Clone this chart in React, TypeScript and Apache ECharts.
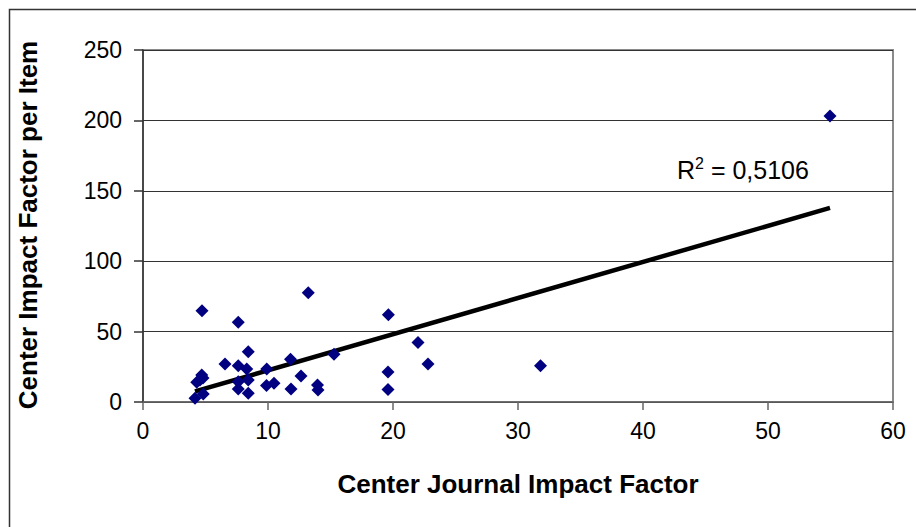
import React, { useEffect, useRef } from "react";
import * as echarts from "echarts";

// Scatter points: [Center Journal Impact Factor, Center Impact Factor per Item]
const journalIF = [
  54.96, 4.72, 7.62, 13.22, 19.63, 22.0, 22.8, 31.8, 19.6, 19.6, 15.28, 8.42,
  6.56, 7.62, 8.3, 9.9, 11.8, 12.64, 10.48, 9.88, 11.84, 13.96, 14.0, 8.42,
  8.42, 7.62, 7.62, 4.56, 4.7, 4.82, 4.16, 4.8, 4.3,
];
const impactPerItem = [
  203.1, 64.8, 56.6, 77.6, 62.0, 42.3, 27.0, 25.8, 21.3, 8.9, 33.9, 35.7,
  27.0, 25.8, 23.4, 23.4, 30.3, 18.5, 13.4, 11.7, 9.2, 12.1, 8.5, 15.6,
  6.2, 9.2, 14.4, 15.6, 19.2, 5.7, 2.6, 17.0, 14.0,
];

// Linear trend line: y = slope * x + intercept
const trendSlope = 2.566;
const trendIntercept = -3.17;
const rSquaredText = "0,5106";

const xTicks = { min: 0, max: 60, interval: 10 };
const yTicks = { min: 0, max: 250, interval: 50 };

const xTitle = "Center Journal Impact Factor";
const yTitle = "Center Impact Factor per Item";

export default function App() {
  const ref = useRef<HTMLDivElement>(null);

  useEffect(() => {
    if (!ref.current) return;
    const chart = echarts.init(ref.current, undefined, { renderer: "svg" });
    const points = journalIF.map((x, i) => [x, impactPerItem[i]]);
    const xMin = Math.min(...journalIF);
    const xMax = Math.max(...journalIF);
    const trend = [
      [xMin, trendSlope * xMin + trendIntercept],
      [xMax, trendSlope * xMax + trendIntercept],
    ];
    const font = "Liberation Sans, Arial, sans-serif";

    chart.setOption({
      animation: false,
      backgroundColor: "#ffffff",
      grid: {
        left: 143,
        right: 23,
        top: 50,
        bottom: 125,
        show: true,
        borderColor: "#8a8a8a",
        borderWidth: 2,
        backgroundColor: "transparent",
      },
      xAxis: {
        type: "value",
        min: xTicks.min,
        max: xTicks.max,
        interval: xTicks.interval,
        axisLine: { show: true, onZero: false, lineStyle: { color: "#666", width: 1.5 } },
        axisTick: { show: true, inside: false, length: 8, lineStyle: { color: "#666", width: 1.5 } },
        splitLine: { show: false },
        axisLabel: { fontFamily: font, fontSize: 23, color: "#000", margin: 17 },
      },
      yAxis: {
        type: "value",
        min: yTicks.min,
        max: yTicks.max,
        interval: yTicks.interval,
        axisLine: { show: true, onZero: false, lineStyle: { color: "#333", width: 1.5 } },
        axisTick: { show: true, inside: false, length: 9, lineStyle: { color: "#333", width: 1.5 } },
        splitLine: { show: true, lineStyle: { color: "#333", width: 1.2 } },
        axisLabel: { fontFamily: font, fontSize: 23, color: "#000", margin: 21 },
      },
      graphic: [
        {
          type: "rect",
          shape: { x: 9.5, y: 9.5, width: 1200, height: 1200 },
          style: { fill: "none", stroke: "#333", lineWidth: 1.5 },
          silent: true,
        },
        {
          type: "text",
          x: 518,
          y: 484,
          style: {
            text: xTitle,
            font: `bold 26px ${font}`,
            fill: "#000",
            align: "center",
            verticalAlign: "middle",
          },
        },
        {
          type: "text",
          x: 28,
          y: 225,
          rotation: Math.PI / 2,
          style: {
            text: yTitle,
            font: `bold 26px ${font}`,
            fill: "#000",
            align: "center",
            verticalAlign: "middle",
          },
        },
        {
          type: "text",
          x: 677,
          y: 170,
          style: {
            text: "{r|R}{s|2}{r| = " + rSquaredText + "}",
            align: "left",
            verticalAlign: "middle",
            rich: {
              r: { fontFamily: font, fontSize: 25, fill: "#000", color: "#000" },
              s: { fontFamily: font, fontSize: 16, fill: "#000", color: "#000", padding: [0, 0, 13, 0] },
            },
          },
        },
      ],
      series: [
        {
          type: "line",
          data: trend,
          showSymbol: false,
          symbol: "none",
          lineStyle: { color: "#000", width: 4.5 },
          z: 3,
          silent: true,
        },
        {
          type: "scatter",
          data: points,
          symbol: "diamond",
          symbolSize: 13,
          itemStyle: { color: "#000080", opacity: 1 },
          z: 4,
        },
      ],
    });

    return () => chart.dispose();
  }, []);

  return (
    <div
      ref={ref}
      style={{ position: "fixed", left: 0, top: 0, width: 916, height: 527, overflow: "hidden" }}
    />
  );
}
